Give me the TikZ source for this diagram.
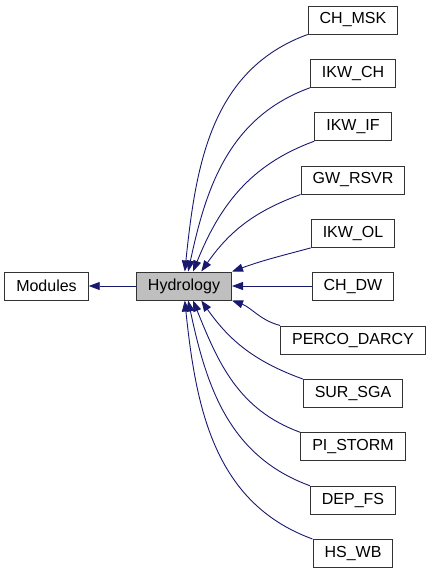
\documentclass[tikz,border=0pt]{standalone}
\usepackage{fontspec}
\setmainfont{Liberation Sans}
\usetikzlibrary{arrows.meta}
\definecolor{doxyblue}{RGB}{25, 25, 112}
\definecolor{doxygris}{RGB}{191, 191, 191}

\begin{document}
\begin{tikzpicture}[
    x=1pt, y=-1pt,
    font=\fontsize{16}{19}\selectfont,
    box/.style={draw=black!80, line width=1pt, fill=white, minimum height=28pt, inner xsep=11.5pt, inner ysep=0pt},
    atual/.style={box, fill=doxygris},
    seta/.style={doxyblue, line width=0.9pt, -{Triangle[length=11pt, width=8pt]}},
]
\useasboundingbox (0,0) rectangle (432,573);

% -- grupos ------------------------------------------
\node[box]   (modules) at (46.5,286) {Modules};
\node[atual] (hydro)   at (184,286)  {Hydrology};

% -- submodulos (coluna da direita) -----------------
\node[box] (chmsk)  at (353,20)    {CH\_MSK};
\node[box] (ikwch)  at (353,73.3)  {IKW\_CH};
\node[box] (ikwif)  at (353,126.7) {IKW\_IF};
\node[box] (gwrsvr) at (353,180)   {GW\_RSVR};
\node[box] (ikwol)  at (353,233.4) {IKW\_OL};
\node[box] (chdw)   at (353,286)   {CH\_DW};
\node[box] (perco)  at (353,340)   {PERCO\_DARCY};
\node[box] (sursga) at (353,393.5) {SUR\_SGA};
\node[box] (pistorm) at (353,446.8) {PI\_STORM};
\node[box] (depfs)  at (353,500.2) {DEP\_FS};
\node[box] (hswb)   at (353,553.5) {HS\_WB};

% -- setas --------------------------------------------
\draw[seta] (hydro) -- (modules);

\draw[seta] (chmsk.south west)  to[out=200, in=84] (hydro.87);
\draw[seta] (ikwch.south west)  to[out=200, in=78] (hydro.74);
\draw[seta] (ikwif.south west)  to[out=200, in=68] (hydro.58);
\draw[seta] (gwrsvr.south west) to[out=200, in=55] (hydro.40);
\draw[seta] (ikwol.south west)  to[out=195, in=20] (hydro.north east);
\draw[seta] (chdw) -- (hydro);

\draw[seta] (perco.north west)   to[out=165, in=-20] (hydro.south east);
\draw[seta] (sursga.north west)  to[out=160, in=-55] (hydro.-40);
\draw[seta] (pistorm.north west) to[out=160, in=-68] (hydro.-58);
\draw[seta] (depfs.north west)   to[out=160, in=-78] (hydro.-74);
\draw[seta] (hswb.north west)    to[out=160, in=-84] (hydro.-87);

\end{tikzpicture}
\end{document}
